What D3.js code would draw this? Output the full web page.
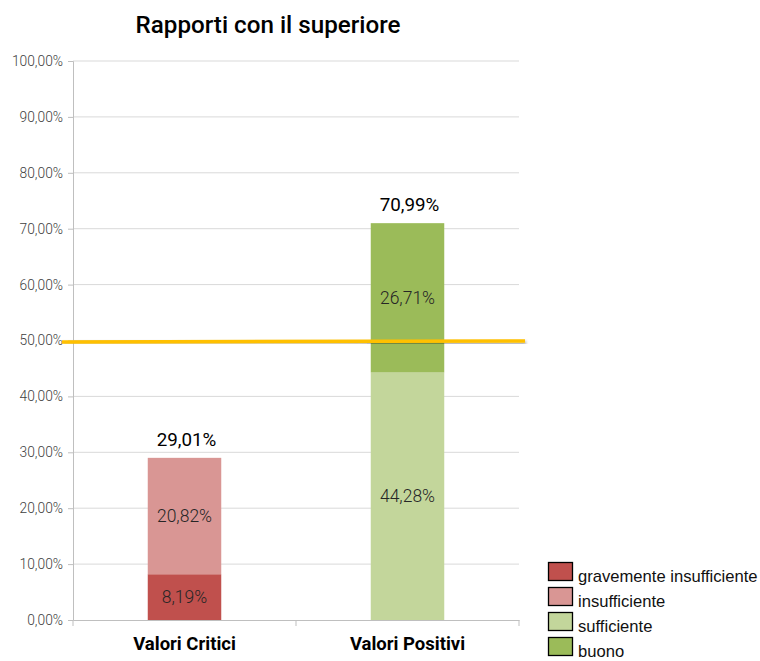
<!DOCTYPE html>
<html><head><meta charset="utf-8">
<script src="https://cdn.jsdelivr.net/npm/d3@7"></script>
<style>body{margin:0;background:#fff}svg{display:block}</style>
</head><body>
<svg id="c" width="760" height="661"></svg>
<script>
const title = "Rapporti con il superiore";
const categories = ["Valori Critici", "Valori Positivi"];
const seriesNames = ["gravemente insufficiente", "insufficiente", "sufficiente", "buono"];
const seriesColors = ["#c0504d", "#d99694", "#c3d69b", "#9bbb59"];
const gravemente = [0.0819, 0];
const insufficiente = [0.2082, 0];
const sufficiente = [0, 0.4428];
const buono = [0, 0.2671];
const totals = [0.2901, 0.7099];
const threshold = 0.5;
const yTicks = [0,0.1,0.2,0.3,0.4,0.5,0.6,0.7,0.8,0.9,1.0];

const fmt = v => (v*100).toFixed(2).replace(".", ",") + "%";
const svg = d3.select("#c");
const x = d3.scaleBand().domain(categories).range([73, 519]).padding(0);
const y = d3.scaleLinear().domain([0, 1]).range([620, 61]);
const barW = 73.5;

// gridlines
svg.append("g").selectAll("line").data(yTicks.slice(1)).join("line")
  .attr("x1", 73).attr("x2", 519).attr("y1", d => y(d)).attr("y2", d => y(d))
  .attr("stroke", "#d9d9d9").attr("stroke-width", 1);

// y axis
const ya = svg.append("g").attr("transform", "translate(73,0)")
  .call(d3.axisLeft(y).tickValues(yTicks).tickFormat(fmt).tickSize(5).tickPadding(5));
ya.select(".domain").attr("stroke", "#bfbfbf");
ya.selectAll(".tick line").attr("stroke", "#bfbfbf");
ya.selectAll("text").attr("font-family", "Roboto").attr("font-weight", 300).attr("font-size", 13.8).attr("fill", "#404040");

// x axis
const xa = svg.append("g").attr("transform", "translate(0,620)")
  .call(d3.axisBottom(x).tickSize(0).tickPadding(0).tickFormat(""));
xa.select(".domain").attr("stroke", "#bfbfbf");
svg.append("g").selectAll("line").data([73, 296, 519]).join("line")
  .attr("x1", d => d).attr("x2", d => d).attr("y1", 620).attr("y2", 626)
  .attr("stroke", "#bfbfbf");
svg.append("g").selectAll("text").data(categories).join("text")
  .attr("x", d => x(d) + x.bandwidth()/2).attr("y", 650)
  .attr("text-anchor", "middle").attr("font-family", "Roboto").attr("font-weight", "bold")
  .attr("font-size", 18.5).attr("fill", "#000").text(d => d);

// stacked bars
const data = categories.map((c, i) => ({cat: c, g: gravemente[i], i: insufficiente[i], s: sufficiente[i], b: buono[i]}));
const stack = d3.stack().keys(["g", "i", "s", "b"])(data);
stack.forEach((layer, k) => {
  const g = svg.append("g");
  layer.forEach((d, j) => {
    if (d[1] - d[0] <= 0) return;
    const cx = x(data[j].cat) + x.bandwidth()/2;
    g.append("rect").attr("x", cx - barW/2).attr("width", barW)
      .attr("y", y(d[1])).attr("height", y(d[0]) - y(d[1])).attr("fill", seriesColors[k]);
    g.append("text").attr("x", cx).attr("y", (y(d[0]) + y(d[1]))/2 + 6)
      .attr("text-anchor", "middle").attr("font-family", "Roboto").attr("font-weight", 300).attr("font-size", 17.5)
      .attr("fill", "#262626").text(fmt(d[1] - d[0]));
  });
});

// totals
svg.append("g").selectAll("text").data(totals).join("text")
  .attr("x", (d, i) => x(categories[i]) + x.bandwidth()/2 + 2).attr("y", d => y(d) - 12)
  .attr("text-anchor", "middle").attr("font-family", "Roboto").attr("font-size", 18.8)
  .attr("fill", "#000").text(d => fmt(d));

// threshold line with shadow
const defs = svg.append("defs");
const f = defs.append("filter").attr("id", "sh").attr("x", "-5%").attr("y", "-200%").attr("width", "110%").attr("height", "500%");
f.append("feDropShadow").attr("dx", 1).attr("dy", 2).attr("stdDeviation", 1.5).attr("flood-color", "#000").attr("flood-opacity", 0.35);
svg.append("line").attr("x1", 62).attr("x2", 525).attr("y1", y(threshold) + 1.5).attr("y2", y(threshold) + 0.5)
  .attr("stroke", "#ffc000").attr("stroke-width", 3.5).attr("filter", "url(#sh)");

// title
svg.append("text").attr("x", 268).attr("y", 33).attr("text-anchor", "middle")
  .attr("font-family", "Roboto").attr("font-weight", 500).attr("font-size", 24.2).attr("fill", "#000").text(title);

// legend
const lg = svg.append("g").attr("transform", "translate(548,562)");
seriesNames.forEach((n, i) => {
  lg.append("rect").attr("x", 0.5).attr("y", i*25 + 0.5).attr("width", 24).attr("height", 18)
    .attr("fill", seriesColors[i]).attr("stroke", "#000").attr("stroke-width", 1.3);
  lg.append("text").attr("x", 30).attr("y", i*25 + 20).attr("font-family", "Liberation Sans, Arial")
    .attr("font-size", 16.6).attr("fill", "#111").text(n);
});
</script>
</body></html>
